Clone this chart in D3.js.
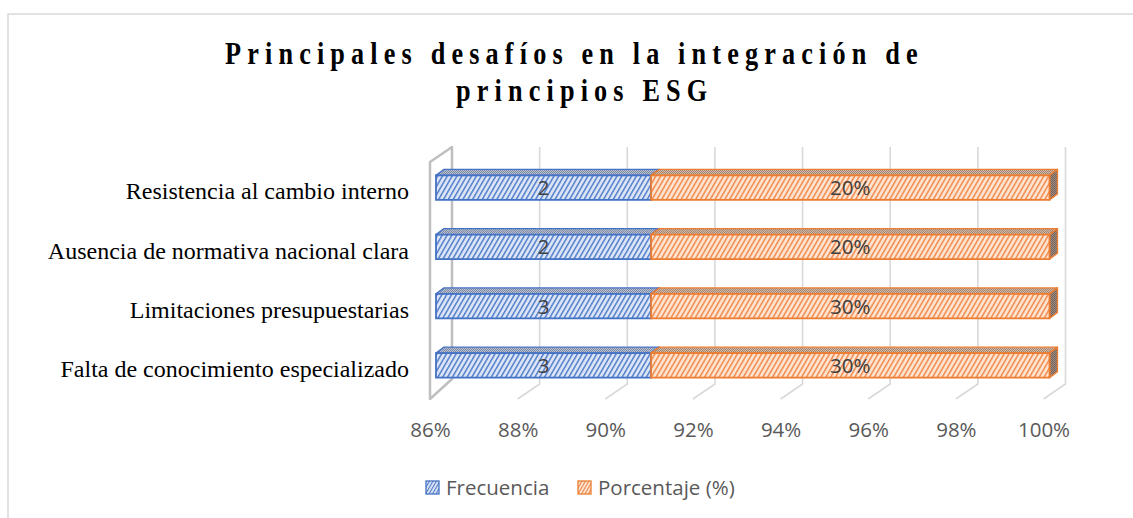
<!DOCTYPE html>
<html>
<head>
<meta charset="utf-8">
<script src="https://cdn.jsdelivr.net/npm/d3@7/dist/d3.min.js"></script>
<style>
  body { margin: 0; background: #fff; }
  svg { display: block; }
</style>
</head>
<body>
<div id="chart"></div>
<script>
// Chart data (Excel order: first category at the bottom)
const categories = [
  "Falta de conocimiento especializado",
  "Limitaciones presupuestarias",
  "Ausencia de normativa nacional clara",
  "Resistencia al cambio interno"
];
const frecuencia = [3, 3, 2, 2];
const porcentaje = [0.30, 0.30, 0.20, 0.20];
const seriesNames = ["Frecuencia", "Porcentaje (%)"];
const tickValues = [0.86, 0.88, 0.90, 0.92, 0.94, 0.96, 0.98, 1.00];
const titleLines = ["Principales desafíos en la integración de", "principios ESG"];

const width = 1133, height = 518;

// 3D offsets (front floor -> bar front, bar depth, back wall)
const barOff = [6, -4];
const barDepth = [8, -6];
const wallOff = [22, -15];

const plotTop = 162, plotBottom = 399;

const svg = d3.select("#chart")
  .append("svg")
  .attr("width", width)
  .attr("height", height);

const defs = svg.append("defs");

// hatch pattern for the front faces
function hatch(id, bg, fg, size) {
  const p = defs.append("pattern")
    .attr("id", id)
    .attr("width", size)
    .attr("height", 10)
    .attr("patternUnits", "userSpaceOnUse")
    .attr("patternTransform", "rotate(30)");
  p.append("rect").attr("width", size).attr("height", 10).attr("fill", bg);
  p.append("rect").attr("width", size * 0.36).attr("height", 10).attr("fill", fg);
}
// stipple pattern for top / side faces
function stipple(id, a, b) {
  const p = defs.append("pattern")
    .attr("id", id)
    .attr("width", 2)
    .attr("height", 2)
    .attr("patternUnits", "userSpaceOnUse");
  p.append("rect").attr("width", 2).attr("height", 2).attr("fill", a);
  p.append("rect").attr("width", 1).attr("height", 1).attr("fill", b);
  p.append("rect").attr("x", 1).attr("y", 1).attr("width", 1).attr("height", 1).attr("fill", b);
}
hatch("hatchBlue", "#dce5f5", "#5580cc", 4.2);
hatch("hatchOrange", "#fde4d2", "#f28c4e", 4.2);
hatch("hatchBlueSm", "#dfe7f6", "#4f79c9", 3);
hatch("hatchOrangeSm", "#fde6d6", "#ee8443", 3);
stipple("topBlue", "#b9c1d3", "#7d8aa6");
stipple("topOrange", "#d4baa9", "#a5846f");
stipple("sideOrange", "#a08c80", "#72625a");

const seriesStyle = [
  { front: "url(#hatchBlue)", top: "url(#topBlue)", side: "url(#topBlue)", stroke: "#4472c4", legend: "url(#hatchBlueSm)" },
  { front: "url(#hatchOrange)", top: "url(#topOrange)", side: "url(#sideOrange)", stroke: "#ed7d31", legend: "url(#hatchOrangeSm)" }
];

// Outer chart border
svg.append("rect")
  .attr("x", 8)
  .attr("y", 14)
  .attr("width", 1200)
  .attr("height", 600)
  .attr("fill", "none")
  .attr("stroke", "#d9d9d9")
  .attr("stroke-width", 1.5);

// Title (condensed bold serif with wide character spacing)
const titleX = [225, 456];
titleLines.forEach((t, i) => {
  svg.append("g")
    .attr("transform", "translate(" + titleX[i] + "," + (64 + i * 37) + ") scale(0.82,1)")
    .append("text")
    .attr("font-family", "'Liberation Serif', 'Times New Roman', serif")
    .attr("font-weight", "bold")
    .attr("font-size", 32)
    .attr("letter-spacing", 7.5)
    .attr("fill", "#000")
    .text(t);
});

// Scales
const x = d3.scaleLinear()
  .domain([tickValues[0], tickValues[tickValues.length - 1]])
  .range([430, 1043.5])
  .clamp(true);

const y = d3.scaleBand()
  .domain(categories.slice().reverse())
  .range([plotTop, plotBottom])
  .paddingInner(0.587)
  .paddingOuter(0.2935);

// Back wall gridlines and floor
const grid = svg.append("g");
tickValues.slice(1).forEach(t => {
  const xf = x(t);
  grid.append("polyline")
    .attr("points", [
      [xf + wallOff[0], plotTop + wallOff[1]],
      [xf + wallOff[0], plotBottom + wallOff[1]],
      [xf, plotBottom]
    ].map(p => p.join(",")).join(" "))
    .attr("fill", "none")
    .attr("stroke", "#d9d9d9")
    .attr("stroke-width", 1.6);
});

// Left side wall
const x0 = x(tickValues[0]);
svg.append("polygon")
  .attr("points", [
    [x0, plotTop],
    [x0 + wallOff[0], plotTop + wallOff[1]],
    [x0 + wallOff[0], plotBottom + wallOff[1] - 5],
    [x0, plotBottom]
  ].map(p => p.join(",")).join(" "))
  .attr("fill", "none")
  .attr("stroke", "#bfbfbf")
  .attr("stroke-width", 2.5)
  .attr("stroke-linejoin", "round");

// Stack data (100% stacked)
const rows = categories.map((c, i) => ({ cat: c, f: frecuencia[i], p: porcentaje[i] }));
const stack = d3.stack().keys(["f", "p"]).offset(d3.stackOffsetExpand);
const stacked = stack(rows);

const pts = arr => arr.map(p => p.join(",")).join(" ");

const bars = svg.append("g");
stacked.forEach((series, si) => {
  const st = seriesStyle[si];
  series.forEach(d => {
    const xa = x(d[0]) + barOff[0];
    const xb = x(d[1]) + barOff[0];
    const yt = y(d.data.cat) + barOff[1];
    const h = y.bandwidth();
    const g = bars.append("g");
    // top face
    g.append("polygon")
      .attr("points", pts([[xa, yt], [xb, yt], [xb + barDepth[0], yt + barDepth[1]], [xa + barDepth[0], yt + barDepth[1]]]))
      .attr("fill", st.top)
      .attr("stroke", st.stroke)
      .attr("stroke-width", 1.3)
      .attr("stroke-linejoin", "round");
    // right face
    g.append("polygon")
      .attr("points", pts([[xb, yt], [xb + barDepth[0], yt + barDepth[1]], [xb + barDepth[0], yt + h + barDepth[1]], [xb, yt + h]]))
      .attr("fill", st.side)
      .attr("stroke", st.stroke)
      .attr("stroke-width", 1.3)
      .attr("stroke-linejoin", "round");
    // front face
    g.append("rect")
      .attr("x", xa)
      .attr("y", yt)
      .attr("width", xb - xa)
      .attr("height", h)
      .attr("fill", st.front)
      .attr("stroke", st.stroke)
      .attr("stroke-width", 1.8);
    // data label
    const val = si === 0 ? d.data.f : d.data.p;
    g.append("text")
      .attr("x", (xa + xb) / 2)
      .attr("y", yt + h / 2)
      .attr("dy", "0.36em")
      .attr("text-anchor", "middle")
      .attr("font-family", "'Open Sans', sans-serif")
      .attr("font-size", 20.5)
      .attr("fill", "#404040")
      .text(si === 0 ? d3.format("d")(val) : d3.format(".0%")(val));
  });
});

// X axis
const xAxis = d3.axisBottom(x)
  .tickValues(tickValues)
  .tickFormat(d3.format(".0%"))
  .tickSize(0)
  .tickPadding(0);
svg.append("g")
  .attr("transform", "translate(0,422.5)")
  .call(xAxis)
  .call(g => g.select(".domain").remove())
  .selectAll("text")
  .attr("font-family", "'Open Sans', sans-serif")
  .attr("font-size", 20.5)
  .attr("fill", "#595959");

// Y axis (category labels)
const yAxis = d3.axisLeft(y).tickSize(0).tickPadding(0);
svg.append("g")
  .attr("transform", "translate(409,0)")
  .call(yAxis)
  .call(g => g.select(".domain").remove())
  .selectAll("text")
  .attr("font-family", "'Liberation Serif', 'Times New Roman', serif")
  .attr("font-size", 24)
  .attr("fill", "#000");

// Legend
const legendX = [426, 578];
const legend = svg.append("g");
seriesNames.forEach((name, i) => {
  legend.append("rect")
    .attr("x", legendX[i])
    .attr("y", 481)
    .attr("width", 13)
    .attr("height", 13)
    .attr("fill", seriesStyle[i].legend)
    .attr("stroke", seriesStyle[i].stroke)
    .attr("stroke-width", 1.3);
  legend.append("text")
    .attr("x", legendX[i] + 20)
    .attr("y", 495)
    .attr("font-family", "'Open Sans', sans-serif")
    .attr("font-size", 20.5)
    .attr("fill", "#595959")
    .text(name);
});
</script>
</body>
</html>
